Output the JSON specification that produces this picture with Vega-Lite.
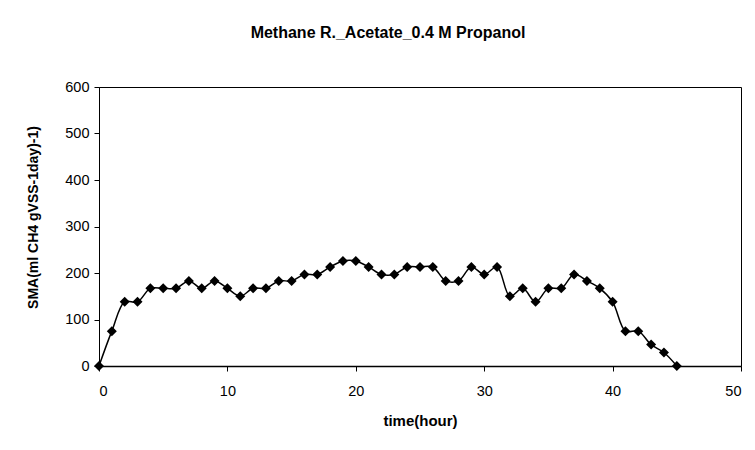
{
  "$schema": "https://vega.github.io/schema/vega-lite/v6.json",
  "width": 642,
  "height": 279,
  "autosize": {"type": "none"},
  "padding": {"left": 99, "top": 87, "right": 14, "bottom": 84},
  "background": "white",
  "title": {
    "text": "Methane R._Acetate_0.4 M Propanol",
    "font": "Liberation Sans",
    "fontSize": 16,
    "fontWeight": "bold",
    "color": "black",
    "anchor": "middle",
    "dx": -32,
    "offset": 38
  },
  "data": {
    "values": [
      {"t": 0, "sma": 0}, {"t": 1, "sma": 75}, {"t": 2, "sma": 138}, {"t": 3, "sma": 138},
      {"t": 4, "sma": 167}, {"t": 5, "sma": 167}, {"t": 6, "sma": 167}, {"t": 7, "sma": 183},
      {"t": 8, "sma": 167}, {"t": 9, "sma": 183}, {"t": 10, "sma": 167}, {"t": 11, "sma": 150},
      {"t": 12, "sma": 167}, {"t": 13, "sma": 167}, {"t": 14, "sma": 183}, {"t": 15, "sma": 183},
      {"t": 16, "sma": 197}, {"t": 17, "sma": 197}, {"t": 18, "sma": 213}, {"t": 19, "sma": 226},
      {"t": 20, "sma": 226}, {"t": 21, "sma": 213}, {"t": 22, "sma": 197}, {"t": 23, "sma": 197},
      {"t": 24, "sma": 213}, {"t": 25, "sma": 213}, {"t": 26, "sma": 213}, {"t": 27, "sma": 183},
      {"t": 28, "sma": 183}, {"t": 29, "sma": 213}, {"t": 30, "sma": 197}, {"t": 31, "sma": 213},
      {"t": 32, "sma": 150}, {"t": 33, "sma": 167}, {"t": 34, "sma": 138}, {"t": 35, "sma": 167},
      {"t": 36, "sma": 167}, {"t": 37, "sma": 197}, {"t": 38, "sma": 183}, {"t": 39, "sma": 167},
      {"t": 40, "sma": 138}, {"t": 41, "sma": 75}, {"t": 42, "sma": 75}, {"t": 43, "sma": 46},
      {"t": 44, "sma": 29}, {"t": 45, "sma": 0}
    ]
  },
  "encoding": {
    "x": {
      "field": "t", "type": "quantitative",
      "scale": {"domain": [0, 50], "nice": false},
      "axis": {
        "title": "time(hour)", "values": [0, 10, 20, 30, 40, 50],
        "grid": false, "domainColor": "black", "domainWidth": 1.5,
        "tickColor": "black", "tickSize": 5, "labelPadding": 13,
        "labelFont": "Liberation Sans", "labelFontSize": 14.5, "labelColor": "black",
        "titleFont": "Liberation Sans", "titleFontSize": 15, "titleFontWeight": "bold",
        "titleColor": "black", "titlePadding": 16
      }
    },
    "y": {
      "field": "sma", "type": "quantitative",
      "scale": {"domain": [0, 600], "nice": false},
      "axis": {
        "title": "SMA(ml CH4 gVSS-1day)-1)", "values": [0, 100, 200, 300, 400, 500, 600],
        "grid": false, "domainColor": "black", "domainWidth": 1,
        "tickColor": "black", "tickSize": 5, "labelPadding": 5,
        "labelFont": "Liberation Sans", "labelFontSize": 14.5, "labelColor": "black",
        "titleFont": "Liberation Sans", "titleFontSize": 14, "titleFontWeight": "bold",
        "titleColor": "black", "titlePadding": 24, "titleY": 130
      }
    }
  },
  "layer": [
    {
      "mark": {"type": "line", "interpolate": "catmull-rom", "color": "black", "strokeWidth": 1.5}
    },
    {
      "mark": {"type": "point", "shape": "diamond", "filled": true, "color": "black", "opacity": 1, "size": 100}
    }
  ],
  "config": {
    "view": {"stroke": "black", "strokeWidth": 1}
  }
}
